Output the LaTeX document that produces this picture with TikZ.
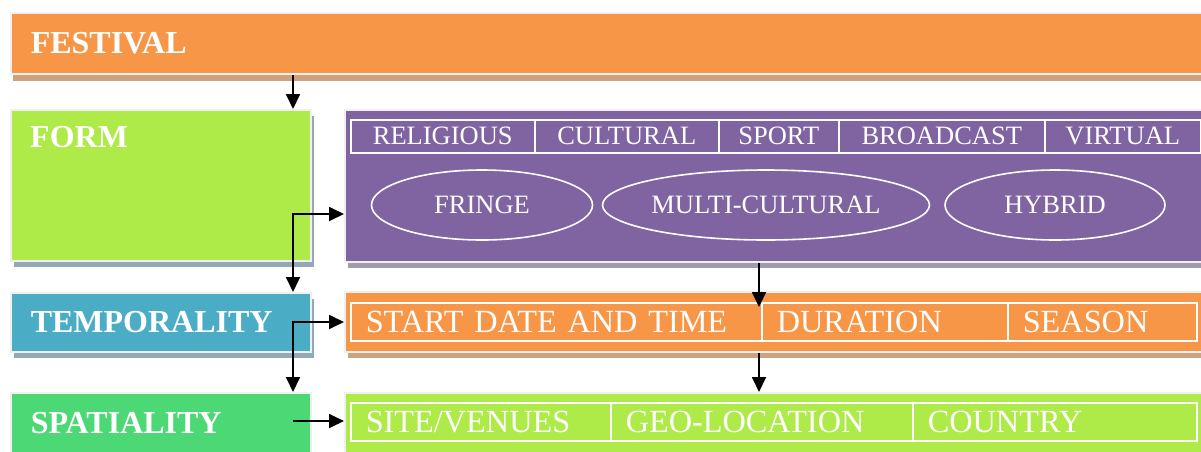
\documentclass[tikz,border=0pt]{standalone}
\usepackage{fontspec}
\setmainfont{Liberation Serif}
\usetikzlibrary{shapes.geometric, arrows.meta, shadows}
\definecolor{festorange}{HTML}{F79646}
\definecolor{formgreen}{HTML}{AEEA48}
\definecolor{tempblue}{HTML}{4BACC6}
\definecolor{spatgreen}{HTML}{4CD874}
\definecolor{formpurple}{HTML}{8064A2}
\definecolor{tanshadow}{HTML}{CDA27F}
\definecolor{greyshadow}{HTML}{A29BAE}
\definecolor{blueshadow}{HTML}{93AAB6}
\tikzstyle{head} = [rectangle, anchor=north west, inner xsep=20pt, inner ysep=0pt, align=left, draw=black!6, line width=1.5pt, text=white, font=\fontsize{32}{36}\selectfont\bfseries]
\tikzstyle{body} = [rectangle, anchor=north west, inner sep=0pt, draw=black!6, line width=1.5pt]
\tikzstyle{cell} = [rectangle, anchor=north west, inner ysep=0pt, draw=white, line width=1.5pt, text=white]
\tikzstyle{smallcell} = [cell, inner xsep=0pt, font=\fontsize{26.5}{30}\selectfont]
\tikzstyle{widecell} = [cell, inner xsep=15pt, align=left, font=\fontsize{32.3}{36}\selectfont]
\tikzstyle{oval} = [ellipse, draw=white, line width=1.6pt, text=white, inner sep=0pt, minimum height=70pt, font=\fontsize{26.5}{30}\selectfont]
\tikzstyle{arrow} = [line width=1.8pt, -{Triangle[length=15pt,width=14pt]}]
\tikzstyle{arrows2} = [line width=1.8pt, {Triangle[length=15pt,width=14pt]}-{Triangle[length=15pt,width=14pt]}]

\begin{document}
\begin{tikzpicture}[x=1pt, y=-1pt]
\useasboundingbox (0,0) rectangle (1201,451);

%Festival
\node (festival) [head, fill=festorange, text width=1171pt, minimum height=61pt, general shadow={fill=tanshadow, shadow xshift=2pt, shadow yshift=-7pt}] at (10,12) {FESTIVAL};

%Form
\node (form) [body, fill=formgreen, minimum width=300pt, minimum height=151pt, general shadow={fill=blueshadow, shadow xshift=3pt, shadow yshift=-6pt},
  label={[text=white, font=\fontsize{32}{36}\selectfont\bfseries, anchor=north west, inner sep=0pt, xshift=20pt, yshift=-17pt]north west:FORM}] at (10,109) {};
\node (formbody) [body, fill=formpurple, minimum width=871pt, minimum height=152pt, general shadow={fill=greyshadow, shadow xshift=3pt, shadow yshift=-6pt}] at (344,109) {};

\node (religious) [smallcell, minimum width=184pt, minimum height=33pt] at (350,119) {RELIGIOUS};
\node (cultural) [smallcell, minimum width=184pt, minimum height=33pt] at (534,119) {CULTURAL};
\node (sport) [smallcell, minimum width=120pt, minimum height=33pt] at (718,119) {SPORT};
\node (broadcast) [smallcell, minimum width=206pt, minimum height=33pt] at (838,119) {BROADCAST};
\node (virtual) [smallcell, minimum width=156pt, minimum height=33pt] at (1044,119) {VIRTUAL};

\node (fringe) [oval, minimum width=221pt] at (482,205) {FRINGE};
\node (multicultural) [oval, minimum width=327pt] at (766,205) {MULTI-CULTURAL};
\node (hybrid) [oval, minimum width=220pt] at (1055,205) {HYBRID};

%Temporality
\node (temporality) [head, fill=tempblue, text width=260pt, minimum height=59pt, general shadow={fill=blueshadow, shadow xshift=3pt, shadow yshift=-6pt}] at (10,292) {TEMPORALITY};
\node (tempbody) [body, fill=festorange, minimum width=871pt, minimum height=60pt, general shadow={fill=tanshadow, shadow xshift=3pt, shadow yshift=-6pt}] at (344,291) {};

\node (startdate) [widecell, text width=381pt, minimum height=38pt] at (350,302) {START DATE AND TIME};
\node (duration) [widecell, text width=216pt, minimum height=38pt] at (761,302) {DURATION};
\node (season) [widecell, text width=159pt, minimum height=38pt] at (1007,302) {SEASON};

%Spatiality
\node (spatiality) [head, fill=spatgreen, text width=260pt, minimum height=60pt] at (10,392) {SPATIALITY};
\node (spatbody) [body, fill=formgreen, minimum width=871pt, minimum height=60pt] at (344,392) {};

\node (sites) [widecell, text width=230pt, minimum height=38pt] at (350,402) {SITE/VENUES};
\node (geolocation) [widecell, text width=272pt, minimum height=38pt] at (610,402) {GEO-LOCATION};
\node (country) [widecell, text width=254pt, minimum height=38pt] at (912,402) {COUNTRY};

%Connectors
\coordinate (leftrail) at (293,0);
\coordinate (midrail) at (759,0);
\coordinate (formjoint) at (293,214);
\coordinate (tempjoint) at (293,322);
\coordinate (spatjoint) at (293,421);

\draw [arrow] (festival.south -| leftrail) -- (form.north -| leftrail);
\draw [arrows2] (formbody.west |- formjoint) -- (formjoint) -- (temporality.north -| formjoint);
\draw [arrows2] (tempbody.west |- tempjoint) -- (tempjoint) -- (spatiality.north -| tempjoint);
\draw [arrow] (spatjoint) -- (spatbody.west |- spatjoint);
\draw [arrow, shorten >=-5pt] (formbody.south -| midrail) -- (startdate.north -| midrail);
\draw [arrow] (tempbody.south -| midrail) -- (spatbody.north -| midrail);

\end{tikzpicture}
\end{document}
